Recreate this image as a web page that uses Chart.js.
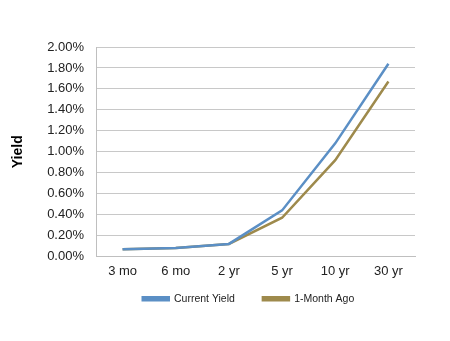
<!DOCTYPE html>
<html>
<head>
<meta charset="utf-8">
<script src="https://cdn.jsdelivr.net/npm/chart.js@4/dist/chart.umd.min.js"></script>
<style>
  html, body { margin: 0; padding: 0; background: #fff; }
  #wrap { width: 450px; height: 341px; }
</style>
</head>
<body>
<div id="wrap"><canvas id="grafico" width="450" height="341"></canvas></div>
<script>
const plazos = ["3 mo", "6 mo", "2 yr", "5 yr", "10 yr", "30 yr"];
const rendActual = [0.07, 0.08, 0.12, 0.44, 1.08, 1.84];
const rendMesAnterior = [0.07, 0.08, 0.12, 0.37, 0.92, 1.67];

const azul = "#5b8fc5";
const oro = "#9e8a4c";

// sube la leyenda un poco, como en el original
const moverLeyenda = {
    id: "moverLeyenda",
    afterLayout(chart) {
        const ley = chart.legend;
        ley.top -= 21;
        ley.bottom -= 21;
        ley.left -= 7;
        ley.right -= 7;
    },
};

new Chart(document.getElementById("grafico"), {
    type: "line",
    data: {
        labels: plazos,
        datasets: [
            {
                label: "Current Yield",
                data: rendActual,
                borderColor: azul,
                backgroundColor: azul,
                borderWidth: 2.5,
                pointRadius: 0,
                tension: 0,
            },
            {
                label: "1-Month Ago",
                data: rendMesAnterior,
                borderColor: oro,
                backgroundColor: oro,
                borderWidth: 2.5,
                pointRadius: 0,
                tension: 0,
            },
        ],
    },
    plugins: [moverLeyenda],
    options: {
        responsive: false,
        animation: false,
        layout: { padding: { left: 10, right: 35, top: 47, bottom: 6 } },
        plugins: {
            tooltip: { enabled: false },
            legend: {
                position: "bottom",
                fullSize: false,
                labels: {
                    boxWidth: 26,
                    boxHeight: 3,
                    padding: 28,
                    color: "#222",
                    font: { family: "Liberation Sans, Arial", size: 10.5 },
                },
            },
        },
        scales: {
            x: {
                offset: true,
                grid: { display: false, drawTicks: false },
                border: { color: "#bfbfbf", width: 1 },
                ticks: {
                    color: "#222",
                    padding: 7,
                    font: { family: "Liberation Sans, Arial", size: 13 },
                },
                afterFit: (s) => { s.height = 30; },
            },
            y: {
                min: 0,
                max: 2,
                ticks: {
                    stepSize: 0.2,
                    color: "#222",
                    padding: 12,
                    font: { family: "Liberation Sans, Arial", size: 13 },
                    callback: (v) => v.toFixed(2) + "%",
                },
                grid: { color: "#c8c8c8", lineWidth: 1, drawTicks: false },
                border: { color: "#bfbfbf", width: 1 },
                title: {
                    display: true,
                    text: "Yield",
                    color: "#000",
                    font: { family: "Liberation Sans, Arial", size: 14, weight: "bold" },
                    padding: 0,
                },
                afterFit: (s) => { s.width = 86; },
            },
        },
    },
});
</script>
</body>
</html>
